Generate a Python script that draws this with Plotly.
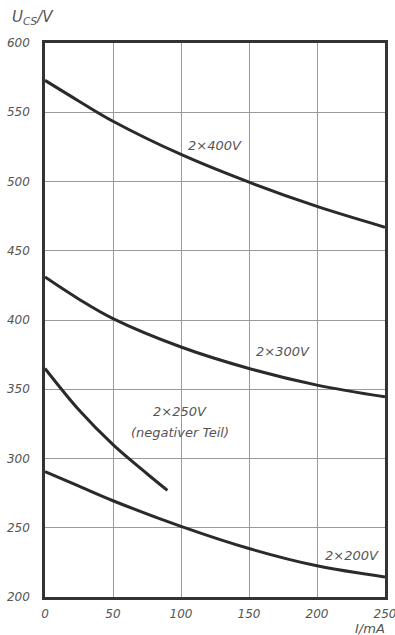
import plotly.graph_objects as go

I_ma = [0, 25, 50, 100, 150, 200, 250]
u_400 = [573, 558, 543.5, 519.5, 499.5, 482, 467]
u_300 = [431, 415, 401, 380.5, 365, 353, 344.5]
u_200 = [290.5, 280, 269.5, 251, 235, 222.5, 214.5]
I_250 = [0, 25, 50, 75, 90]
u_250 = [365, 335, 310, 289, 277]

x_ticks = [0, 50, 100, 150, 200, 250]
y_ticks = [200, 250, 300, 350, 400, 450, 500, 550, 600]

line = dict(color="#2a2a2a", width=3)
fig = go.Figure()
for xs, ys in [(I_ma, u_400), (I_ma, u_300), (I_250, u_250), (I_ma, u_200)]:
    fig.add_trace(go.Scatter(x=xs, y=ys, mode="lines",
                             line=dict(line, shape="spline", smoothing=1.0),
                             showlegend=False, hoverinfo="skip"))

font = dict(family="DejaVu Sans, sans-serif", size=12, color="#555555")
lab = dict(showarrow=False, font=dict(font, size=13), xref="x", yref="y")
ann = [
    dict(lab, x=125, y=526, text="<i>2×400V</i>"),
    dict(lab, x=175, y=377, text="<i>2×300V</i>"),
    dict(lab, x=99, y=334, text="<i>2×250V</i>"),
    dict(lab, x=99, y=319, text="<i>(negativer Teil)</i>"),
    dict(lab, x=226, y=230, text="<i>2×200V</i>"),
    dict(showarrow=False, xref="paper", yref="paper", x=-0.103, y=1.025, xanchor="left",
         yanchor="bottom", text="<i>U<sub>CS</sub>/V</i>", font=dict(font, size=15)),
    dict(showarrow=False, xref="paper", yref="paper", x=1.005, y=-0.04, xanchor="right",
         yanchor="top", text="<i>I/mA</i>", font=dict(font, size=13)),
]

fig.update_layout(
    width=395, height=635,
    margin=dict(l=45, r=10, t=43, b=38, autoexpand=False),
    paper_bgcolor="white", plot_bgcolor="white",
    annotations=ann,
    font=font,
)
fig.update_xaxes(range=[0, 250], tickvals=x_ticks, ticktext=[f"<i>{v}</i>" for v in x_ticks],
                 showgrid=True, gridcolor="#9a9a9a", gridwidth=1, zeroline=False,
                 showline=True, linecolor="#333333", linewidth=2.5, mirror=True,
                 ticks="", tickfont=font, ticklabelstandoff=4, automargin=False,
                 ticklabeloverflow="allow")
fig.update_yaxes(range=[200, 600], tickvals=y_ticks, ticktext=[f"<i>{v}</i>" for v in y_ticks],
                 showgrid=True, gridcolor="#9a9a9a", gridwidth=1, zeroline=False,
                 showline=True, linecolor="#333333", linewidth=2.5, mirror=True,
                 ticks="", tickfont=font, ticklabelstandoff=10, automargin=False,
                 ticklabeloverflow="allow")

fig.write_html("out.html", config={"displayModeBar": False},
               post_script="document.body.style.margin='0';document.body.style.overflow='hidden';")
